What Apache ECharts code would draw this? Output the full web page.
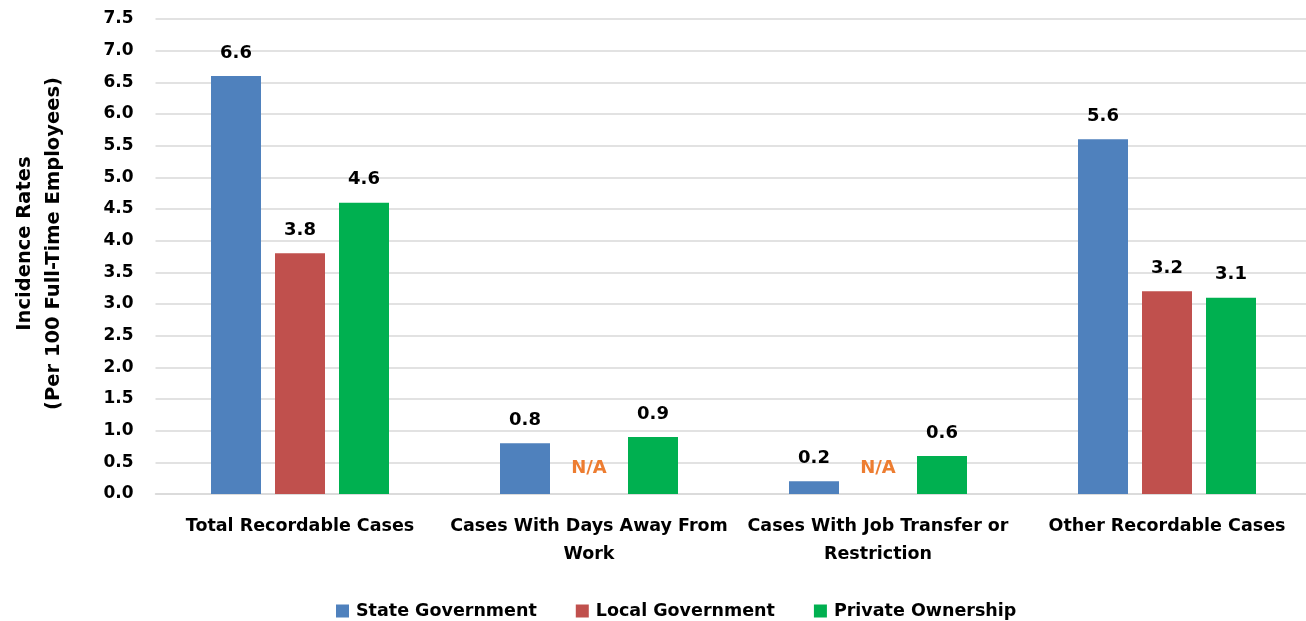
<!DOCTYPE html>
<html><head><meta charset="utf-8">
<script src="https://cdn.jsdelivr.net/npm/echarts@6/dist/echarts.min.js"></script>
<style>html,body{margin:0;padding:0;background:#fff}#c{width:1306px;height:621px}</style>
</head><body><div id="c"></div>
<script>
const categories = ['Total Recordable Cases', 'Cases With Days Away From\nWork', 'Cases With Job Transfer or\nRestriction', 'Other Recordable Cases'];
const seriesNames = ['State Government', 'Local Government', 'Private Ownership'];
const stateGov = [6.6, 0.8, 0.2, 5.6];
const localGov = [3.8, null, null, 3.2];
const privateOwn = [4.6, 0.9, 0.6, 3.1];
const yTicks = { min: 0, max: 7.5, interval: 0.5 };
const colors = ['#4F81BD', '#C0504D', '#00B050'];
const FONT = 'DejaVu Sans';

function toData(arr) {
  return arr.map(v => v === null
    ? { value: 0, label: { show: true, formatter: 'N/A', color: '#ED7D31', fontSize: 18, position: 'top', distance: 17 } }
    : v);
}
const mk = (name, arr, i) => ({
  name, type: 'bar', data: toData(arr), barWidth: 50, barGap: '28%',
  itemStyle: { color: colors[i] },
  label: { show: true, position: 'top', distance: 14, color: '#000', fontWeight: 'bold', fontSize: 18, fontFamily: FONT,
    formatter: p => p.value.toFixed(1) }
});
const chart = echarts.init(document.getElementById('c'));
chart.setOption({
  animation: false,
  textStyle: { fontFamily: FONT },
  grid: { left: 155.5, width: 1156, top: 19, bottom: 127, containLabel: false, outerBoundsMode: 'none' },
  legend: { left: 331, top: 597, itemWidth: 13, itemHeight: 13, itemGap: 39, icon: 'rect',
    textStyle: { fontSize: 17.5, fontWeight: 'bold', color: '#000', fontFamily: FONT, padding: [0, 0, 0, 2] } },
  xAxis: { type: 'category', data: categories,
    axisLine: { lineStyle: { color: '#D9D9D9', width: 1.5 } }, axisTick: { show: false },
    axisLabel: { color: '#000', fontWeight: 'bold', fontSize: 17.5, fontFamily: FONT, margin: 18, lineHeight: 28, interval: 0 } },
  yAxis: { type: 'value', min: yTicks.min, max: yTicks.max, interval: yTicks.interval,
    name: 'Incidence Rates\n(Per 100 Full-Time Employees)', nameLocation: 'middle', nameRotate: 90, nameGap: 87,
    nameTextStyle: { color: '#000', fontWeight: 'bold', fontSize: 19.5, lineHeight: 29, fontFamily: FONT, padding: [0, 0, 0, 26] },
    axisLabel: { color: '#000', fontWeight: 'bold', fontSize: 17, margin: 22, fontFamily: FONT, formatter: v => v.toFixed(1) },
    splitLine: { lineStyle: { color: '#D9D9D9', width: 1.5 } } },
  series: [mk(seriesNames[0], stateGov, 0), mk(seriesNames[1], localGov, 1), mk(seriesNames[2], privateOwn, 2)]
});
</script></body></html>
